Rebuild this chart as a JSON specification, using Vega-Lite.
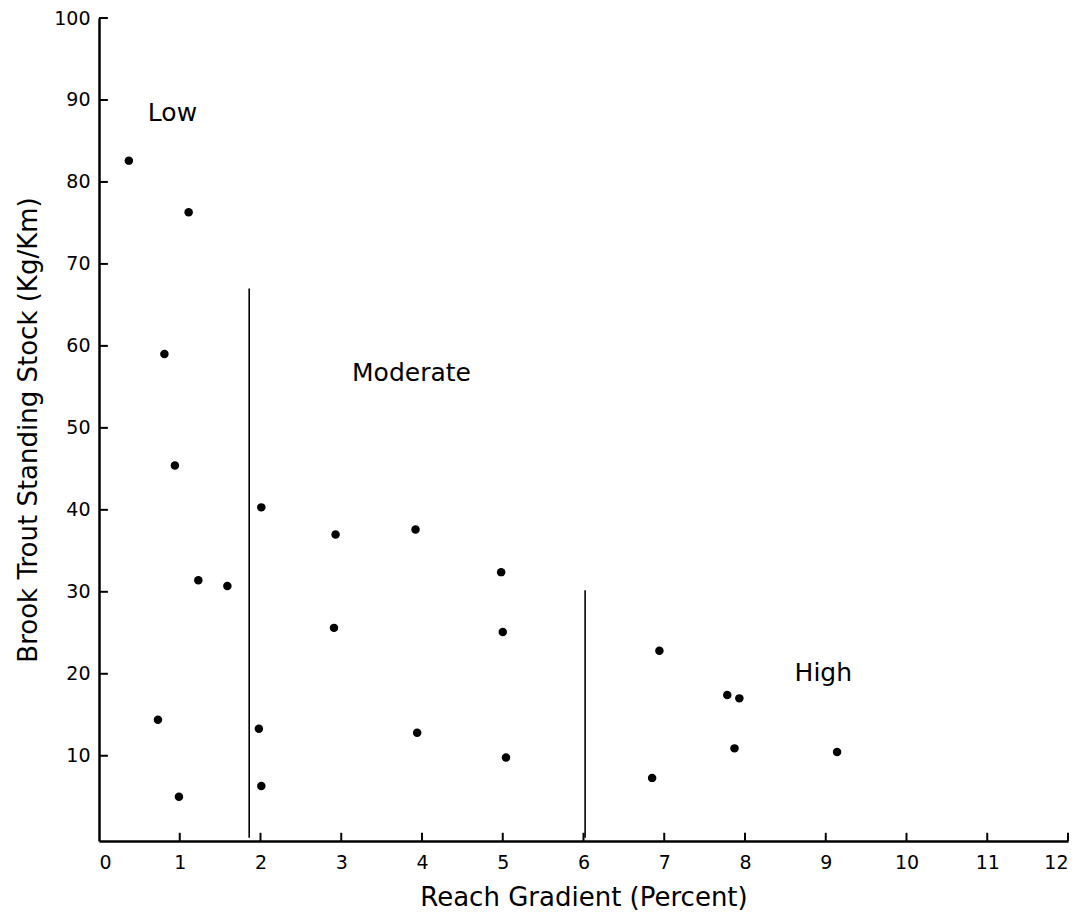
{
  "$schema": "https://vega.github.io/schema/vega-lite/v6.json",
  "autosize": "none",
  "width": 969,
  "height": 823,
  "padding": {"left": 99, "top": 18, "right": 10, "bottom": 74},
  "background": "white",
  "config": {
    "view": {"stroke": null},
    "font": "DejaVu Sans",
    "axis": {
      "grid": false,
      "ticks": false,
      "domainColor": "black",
      "domainWidth": 2.5,
      "labelColor": "black",
      "labelFont": "DejaVu Sans",
      "labelFontSize": 19,
      "titleColor": "black",
      "titleFont": "DejaVu Sans",
      "titleFontSize": 26,
      "titleFontWeight": "normal"
    }
  },
  "datasets": {
    "points": [
      {"gradient": 0.37, "stock": 82.6},
      {"gradient": 1.11, "stock": 76.3},
      {"gradient": 0.81, "stock": 59.0},
      {"gradient": 0.94, "stock": 45.4},
      {"gradient": 1.23, "stock": 31.4},
      {"gradient": 1.59, "stock": 30.7},
      {"gradient": 0.73, "stock": 14.4},
      {"gradient": 0.99, "stock": 5.0},
      {"gradient": 2.01, "stock": 40.3},
      {"gradient": 1.98, "stock": 13.3},
      {"gradient": 2.01, "stock": 6.3},
      {"gradient": 2.93, "stock": 37.0},
      {"gradient": 2.91, "stock": 25.6},
      {"gradient": 3.92, "stock": 37.6},
      {"gradient": 3.94, "stock": 12.8},
      {"gradient": 4.98, "stock": 32.4},
      {"gradient": 5.0, "stock": 25.1},
      {"gradient": 5.04, "stock": 9.8},
      {"gradient": 6.94, "stock": 22.8},
      {"gradient": 6.85, "stock": 7.3},
      {"gradient": 7.78, "stock": 17.4},
      {"gradient": 7.93, "stock": 17.0},
      {"gradient": 7.87, "stock": 10.9},
      {"gradient": 9.14, "stock": 10.45}
    ],
    "dividers": [
      {"gradient": 1.86, "from": 0, "to": 67.0},
      {"gradient": 6.02, "from": 0, "to": 30.2}
    ],
    "labels": [
      {"gradient": 0.91, "stock": 88.4, "text": "Low"},
      {"gradient": 3.87, "stock": 56.7, "text": "Moderate"},
      {"gradient": 8.97, "stock": 20.1, "text": "High"}
    ],
    "xticks": [
      {"v": 1}, {"v": 2}, {"v": 3}, {"v": 4}, {"v": 5}, {"v": 6},
      {"v": 7}, {"v": 8}, {"v": 9}, {"v": 10}, {"v": 11}, {"v": 12}
    ],
    "yticks": [
      {"v": 10}, {"v": 20}, {"v": 30}, {"v": 40}, {"v": 50},
      {"v": 60}, {"v": 70}, {"v": 80}, {"v": 90}, {"v": 100}
    ]
  },
  "layer": [
    {
      "data": {"name": "dividers"},
      "mark": {"type": "rule", "color": "black", "strokeWidth": 1.6},
      "encoding": {
        "x": {"field": "gradient", "type": "quantitative", "scale": {"domain": [0, 12], "nice": false},
          "axis": {"values": [0,1,2,3,4,5,6,7,8,9,10,11,12], "format": "d", "title": "Reach Gradient (Percent)", "labelPadding": 12, "titlePadding": 12}},
        "y": {"field": "from", "type": "quantitative", "scale": {"domain": [-0.4, 100], "nice": false},
          "axis": {"values": [10,20,30,40,50,60,70,80,90,100], "format": "d", "title": "Brook Trout Standing Stock (Kg/Km)", "labelPadding": 9, "titlePadding": 12}},
        "y2": {"field": "to"}
      }
    },
    {
      "data": {"name": "xticks"},
      "mark": {"type": "rule", "color": "black", "strokeWidth": 2},
      "encoding": {
        "x": {"field": "v", "type": "quantitative"},
        "y": {"datum": -0.4},
        "y2": {"datum": 0.6}
      }
    },
    {
      "data": {"name": "yticks"},
      "mark": {"type": "rule", "color": "black", "strokeWidth": 2},
      "encoding": {
        "y": {"field": "v", "type": "quantitative"},
        "x": {"datum": 0},
        "x2": {"datum": 0.11}
      }
    },
    {
      "data": {"name": "points"},
      "mark": {"type": "circle", "color": "black", "opacity": 1, "size": 72},
      "encoding": {
        "x": {"field": "gradient", "type": "quantitative"},
        "y": {"field": "stock", "type": "quantitative"}
      }
    },
    {
      "data": {"name": "labels"},
      "mark": {"type": "text", "color": "black", "fontSize": 25, "font": "DejaVu Sans", "align": "center", "baseline": "middle"},
      "encoding": {
        "x": {"field": "gradient", "type": "quantitative"},
        "y": {"field": "stock", "type": "quantitative"},
        "text": {"field": "text"}
      }
    }
  ]
}
